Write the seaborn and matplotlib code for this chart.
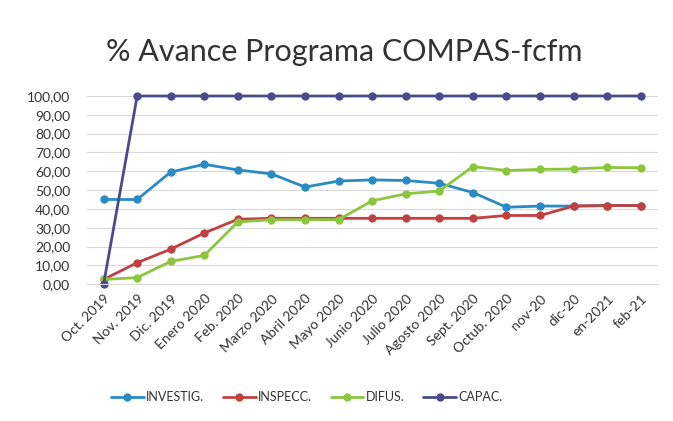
import matplotlib
matplotlib.use("Agg")
import matplotlib.pyplot as plt
import seaborn as sns
import pandas as pd

months = ["Oct. 2019", "Nov. 2019", "Dic. 2019", "Enero 2020", "Feb. 2020", "Marzo 2020",
          "Abril 2020", "Mayo 2020", "Junio 2020", "Julio 2020", "Agosto 2020", "Sept. 2020",
          "Octub. 2020", "nov-20", "dic-20", "en-2021", "feb-21"]
investig = [45, 45, 59.6, 63.7, 60.7, 58.6, 51.6, 54.8, 55.4, 55.1, 53.6, 48.7, 40.9, 41.5, 41.5, 41.8, 41.8]
inspecc = [2.5, 11.4, 18.6, 27.2, 34.5, 35, 35, 35, 35, 35, 35, 35, 36.5, 36.5, 41.5, 41.8, 41.8]
difus = [2.5, 3.5, 12.1, 15.3, 33.1, 34.2, 34.3, 34.3, 44.3, 48, 49.5, 62.5, 60.4, 61, 61.2, 62, 61.9]
capac = [0, 100, 100, 100, 100, 100, 100, 100, 100, 100, 100, 100, 100, 100, 100, 100, 100]
series_names = ["INVESTIG.", "INSPECC.", "DIFUS.", "CAPAC."]
colors = ["#2a8ac4", "#c0413f", "#8cc63f", "#4b4a8c"]

df = pd.concat([
    pd.DataFrame({"Mes": months, "Valor": vals, "Serie": name})
    for name, vals in zip(series_names, [investig, inspecc, difus, capac])
], ignore_index=True)

sns.set_style("white")
plt.rcParams["font.family"] = ["Lato", "DejaVu Sans"]

fig = plt.figure(figsize=(6.73, 4.21), dpi=100)
ax = fig.add_axes([0.129, 0.325, 0.848, 0.447])

sns.lineplot(data=df, x="Mes", y="Valor", hue="Serie", hue_order=series_names,
             palette=colors, marker="o", markersize=6, markeredgewidth=0,
             linewidth=2, sort=False, ax=ax, clip_on=False, legend=True)

ax.set_ylim(0, 100)
ax.set_xlim(-0.5, len(months) - 0.5)
yt = list(range(0, 101, 10))
ax.set_yticks(yt)
ax.set_yticklabels([f"{v:.2f}".replace(".", ",") for v in yt], fontsize=10, color="#333333")
ax.set_xticks(range(len(months)))
ax.set_xticklabels(months, rotation=45, ha="right", rotation_mode="anchor", fontsize=10, color="#333333")
ax.tick_params(axis="y", length=0, pad=12)
ax.tick_params(axis="x", length=0, pad=6)
ax.yaxis.grid(True, color="#d9d9d9", linewidth=0.8)
ax.set_axisbelow(True)
for s in ["top", "right", "left"]:
    ax.spines[s].set_visible(False)
ax.spines["bottom"].set_color("#d9d9d9")
ax.set_xlabel("")
ax.set_ylabel("")

fig.text(0.511, 0.877, "% Avance Programa COMPAS-fcfm", ha="center", va="center",
         fontsize=22, color="#333333")

handles, labels = ax.get_legend_handles_labels()
ax.legend_.remove()
fig.legend(handles, labels, loc="center", bbox_to_anchor=(0.456, 0.057), ncol=4,
           frameon=False, fontsize=9, handlelength=2.6, columnspacing=1.5,
           handletextpad=0.2, labelcolor="#333333")

fig.savefig("out.png", dpi=100, facecolor="white")
